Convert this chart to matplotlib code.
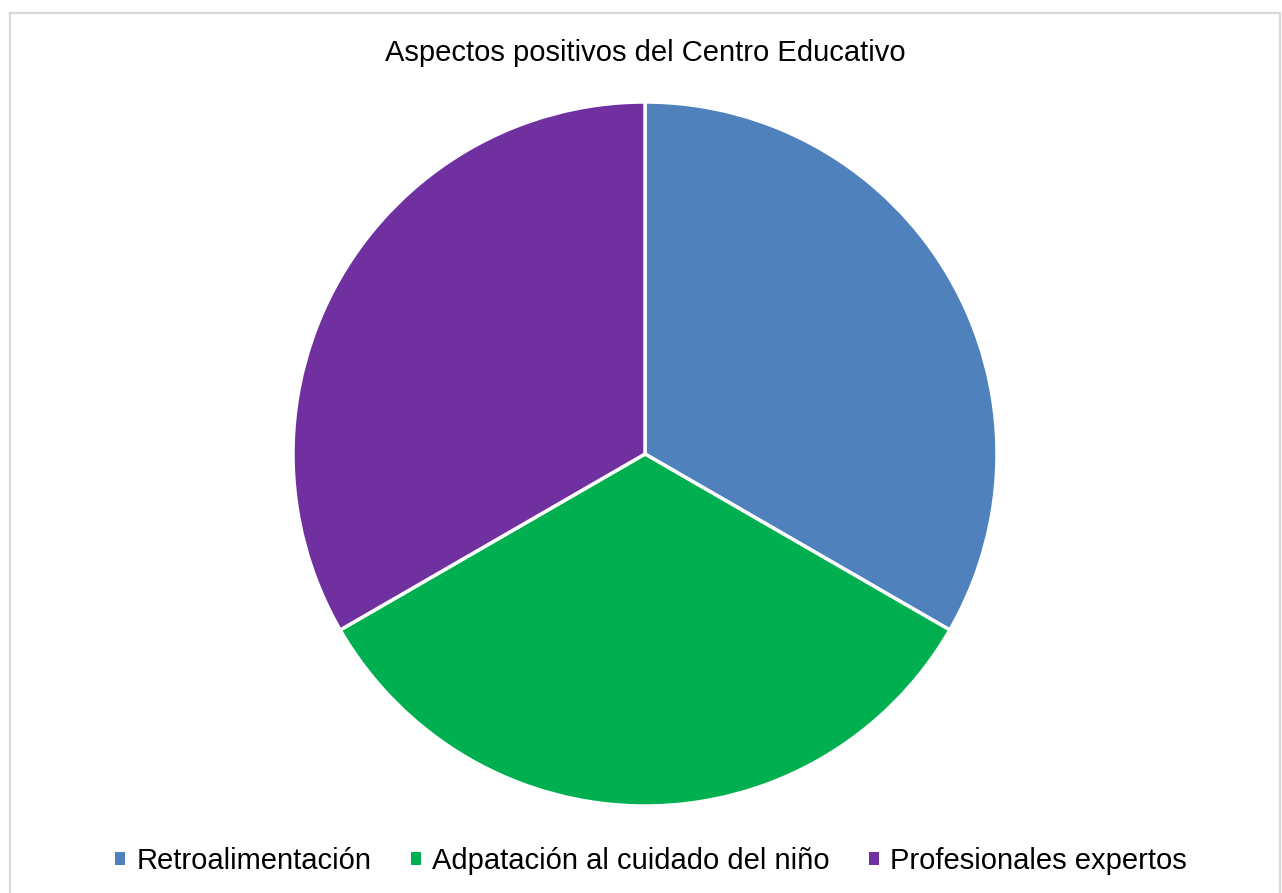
import matplotlib
matplotlib.use("Agg")
import matplotlib.pyplot as plt
from matplotlib.patches import Rectangle, Patch

categories = ["Retroalimentación", "Adpatación al cuidado del niño", "Profesionales expertos"]
values = [1, 1, 1]
colors = ["#4F81BD", "#00B050", "#7030A0"]
title = "Aspectos positivos del Centro Educativo"

plt.rcParams['font.family'] = ['Liberation Sans', 'DejaVu Sans']

W, H = 1282, 893
fig = plt.figure(figsize=(W / 100, H / 100), dpi=100)
fig.patch.set_facecolor("white")

# outer border
fig.patches.append(Rectangle((10 / W, -0.05), 1270 / W, (H - 13) / H + 0.05,
                             transform=fig.transFigure, fill=False,
                             edgecolor="#D9D9D9", linewidth=1.6))

cx, cy, r = 645, 454, 352
ax = fig.add_axes([(cx - r) / W, (H - cy - r) / H, 2 * r / W, 2 * r / H])
ax.pie(values, colors=colors, startangle=90, counterclock=False,
       wedgeprops=dict(edgecolor="white", linewidth=2.5), radius=1.0)
ax.set_xlim(-1, 1)
ax.set_ylim(-1, 1)
ax.set_aspect("equal")
ax.axis("off")

fig.text(645 / W, 1 - 53 / H, title, ha="center", va="center", fontsize=21, color="black")

handles = [Patch(facecolor=c, edgecolor="none") for c in colors]
leg = fig.legend(handles, categories, loc="center", bbox_to_anchor=(651 / W, 1 - 861 / H),
                 ncol=3, frameon=False, fontsize=21, handlelength=0.34, handleheight=0.34,
                 handletextpad=0.38, columnspacing=1.36)

fig.savefig("out.png", dpi=100, facecolor="white")
